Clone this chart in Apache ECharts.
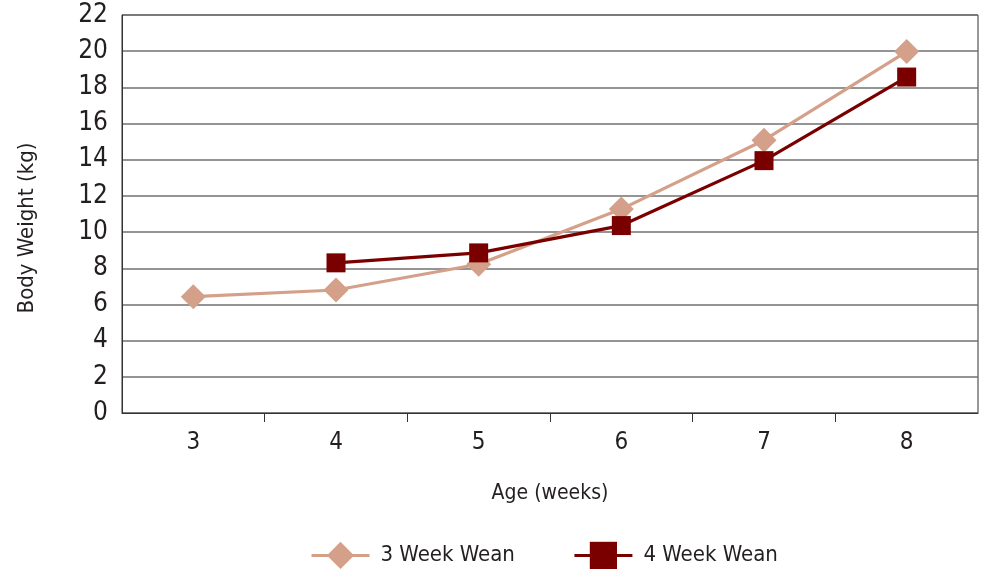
<!DOCTYPE html>
<html><head><meta charset="utf-8">
<script src="https://cdn.jsdelivr.net/npm/echarts@6/dist/echarts.min.js"></script>
<style>html,body{margin:0;padding:0;background:#fff}#c{width:982px;height:569px}</style>
</head><body><div id="c"></div>
<script>
const categories = [3, 4, 5, 6, 7, 8];
const wean3 = [6.43, 6.8, 8.22, 11.27, 15.08, 19.98];
const wean4 = [null, 8.3, 8.85, 10.36, 13.95, 18.57];
const yTicks = {min: 0, max: 22, interval: 2};
const names = ['3 Week Wean', '4 Week Wean'];

const tickFont = '"Liberation Sans Narrow", "DejaVu Sans Condensed", "Liberation Sans", sans-serif';
const titleFont = '"DejaVu Sans Condensed", "Liberation Sans Narrow", sans-serif';

const boundaries = categories.slice(0, -1).map(c => c + 0.5);
const pairs = arr => categories.map((c, i) => [c, arr[i]]).filter(p => p[1] != null);

const chart = echarts.init(document.getElementById('c'));
chart.setOption({
  animation: false,
  backgroundColor: '#fff',
  grid: {left: 122, right: 4, top: 15, bottom: 156, show: true, borderColor: '#333', borderWidth: 1},
  legend: {
    bottom: -5, left: 305,
    itemWidth: 58, itemHeight: 34, itemGap: 58,
    lineStyle: {width: 3},
    textStyle: {fontFamily: titleFont, fontSize: 22, color: '#231f20', padding: [0, 0, 0, 6]},
    data: names
  },
  xAxis: {
    type: 'value', min: categories[0] - 0.5, max: categories[categories.length - 1] + 0.5,
    name: 'Age (weeks)', nameLocation: 'middle', nameGap: 70,
    nameTextStyle: {fontFamily: titleFont, fontSize: 21, color: '#231f20'},
    axisLine: {show: true, onZero: false, lineStyle: {color: '#333', width: 1}},
    axisTick: {show: true, length: 9, lineStyle: {color: '#333'}, customValues: boundaries},
    axisLabel: {fontFamily: tickFont, fontSize: 24, color: '#231f20', margin: 18, customValues: categories},
    splitLine: {show: false}
  },
  yAxis: {
    type: 'value', min: yTicks.min, max: yTicks.max, interval: yTicks.interval,
    name: 'Body Weight (kg)', nameLocation: 'middle', nameGap: 84,
    nameTextStyle: {fontFamily: titleFont, fontSize: 22, color: '#231f20', padding: [0, 28, 0, 0]},
    axisLine: {show: true, lineStyle: {color: '#333', width: 1}},
    axisTick: {show: false},
    axisLabel: {fontFamily: tickFont, fontSize: 26, color: '#231f20', margin: 14},
    splitLine: {lineStyle: {color: '#707070', width: 1.5}}
  },
  series: [
    {name: names[0], type: 'line', data: pairs(wean3), symbol: 'diamond', symbolSize: 25,
     lineStyle: {color: '#d4a08a', width: 3.2}, itemStyle: {color: '#d4a08a'}, z: 2},
    {name: names[1], type: 'line', data: pairs(wean4), symbol: 'rect', symbolSize: 19,
     lineStyle: {color: '#7a0000', width: 3.2}, itemStyle: {color: '#7a0000'}, z: 3}
  ]
});
</script></body></html>
